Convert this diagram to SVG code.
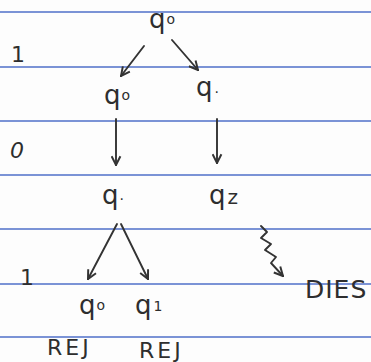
<svg xmlns="http://www.w3.org/2000/svg" width="371" height="362" viewBox="0 0 371 362">
<style>
.rule{stroke:#7b93d6;stroke-width:2}
.t{font-family:"DejaVu Sans",sans-serif;fill:#2e2e2e}
.q{font-size:26px}
.s{font-size:14px}
.w{font-size:22px}
.c{fill:none;stroke:#333;stroke-width:1.9;stroke-linecap:round;stroke-linejoin:round}
</style>
<defs>
<marker id="ah" viewBox="0 0 10 10" refX="9" refY="5" markerWidth="11" markerHeight="11" markerUnits="userSpaceOnUse" orient="auto">
<path d="M1,1 L9,5 L1,9" fill="none" stroke="#333" stroke-width="1.8"/>
</marker>
</defs>
<rect width="371" height="362" fill="#fdfdfd"/>
<g id="paper">
<line class="rule" x1="0" y1="12" x2="371" y2="12"/>
<line class="rule" x1="0" y1="67" x2="371" y2="67"/>
<line class="rule" x1="0" y1="121" x2="371" y2="121"/>
<line class="rule" x1="0" y1="175" x2="371" y2="175"/>
<line class="rule" x1="0" y1="229" x2="371" y2="229"/>
<line class="rule" x1="0" y1="284" x2="371" y2="284"/>
<line class="rule" x1="0" y1="337" x2="371" y2="337"/>
</g>
<g id="inputs" class="t w">
<text x="11" y="62">1</text>
<text x="10" y="158" font-style="italic">0</text>
<text x="20" y="285">1</text>
</g>
<g id="connectors" class="c">
<line x1="144" y1="46" x2="121" y2="76" marker-end="url(#ah)"/>
<line x1="172" y1="40" x2="198" y2="70" marker-end="url(#ah)"/>
<line x1="116" y1="119" x2="116" y2="165" marker-end="url(#ah)"/>
<line x1="217" y1="119" x2="217" y2="163" marker-end="url(#ah)"/>
<line x1="117" y1="224" x2="88" y2="279" marker-end="url(#ah)"/>
<line x1="121" y1="224" x2="148" y2="279" marker-end="url(#ah)"/>
<path d="M261,226 L267,232 L261,238 L271,244 L265,250 L276,257 L271,263 L283,276" marker-end="url(#ah)"/>
</g>
<g id="n_root" class="t"><text x="149" y="28" class="q">q<tspan class="s" dx="1" dy="-4">o</tspan></text></g>
<g id="n_a0" class="t"><text x="104" y="104" class="q">q<tspan class="s" dx="1" dy="-4">o</tspan></text></g>
<g id="n_a1" class="t"><text x="196" y="96" class="q">q<tspan class="s" dx="2" dy="-3">.</tspan></text></g>
<g id="n_b0" class="t"><text x="102" y="204" class="q">q<tspan class="s" dx="1" dy="-4">.</tspan></text></g>
<g id="n_b2" class="t"><text x="209" y="204" class="q">q<tspan font-size="20" dx="2">z</tspan></text></g>
<g id="n_c0" class="t"><text x="79" y="314" class="q">q<tspan class="s" dx="1" dy="-4">o</tspan></text><text x="47" y="355" class="w" letter-spacing="3">REJ</text></g>
<g id="n_c1" class="t"><text x="135" y="314" class="q">q<tspan class="s" dx="2" dy="-3">1</tspan></text><text x="139" y="358" class="w" letter-spacing="3">REJ</text></g>
<g id="dies" class="t"><text x="305" y="298" font-size="25px" letter-spacing="1">DIES</text></g>
</svg>
